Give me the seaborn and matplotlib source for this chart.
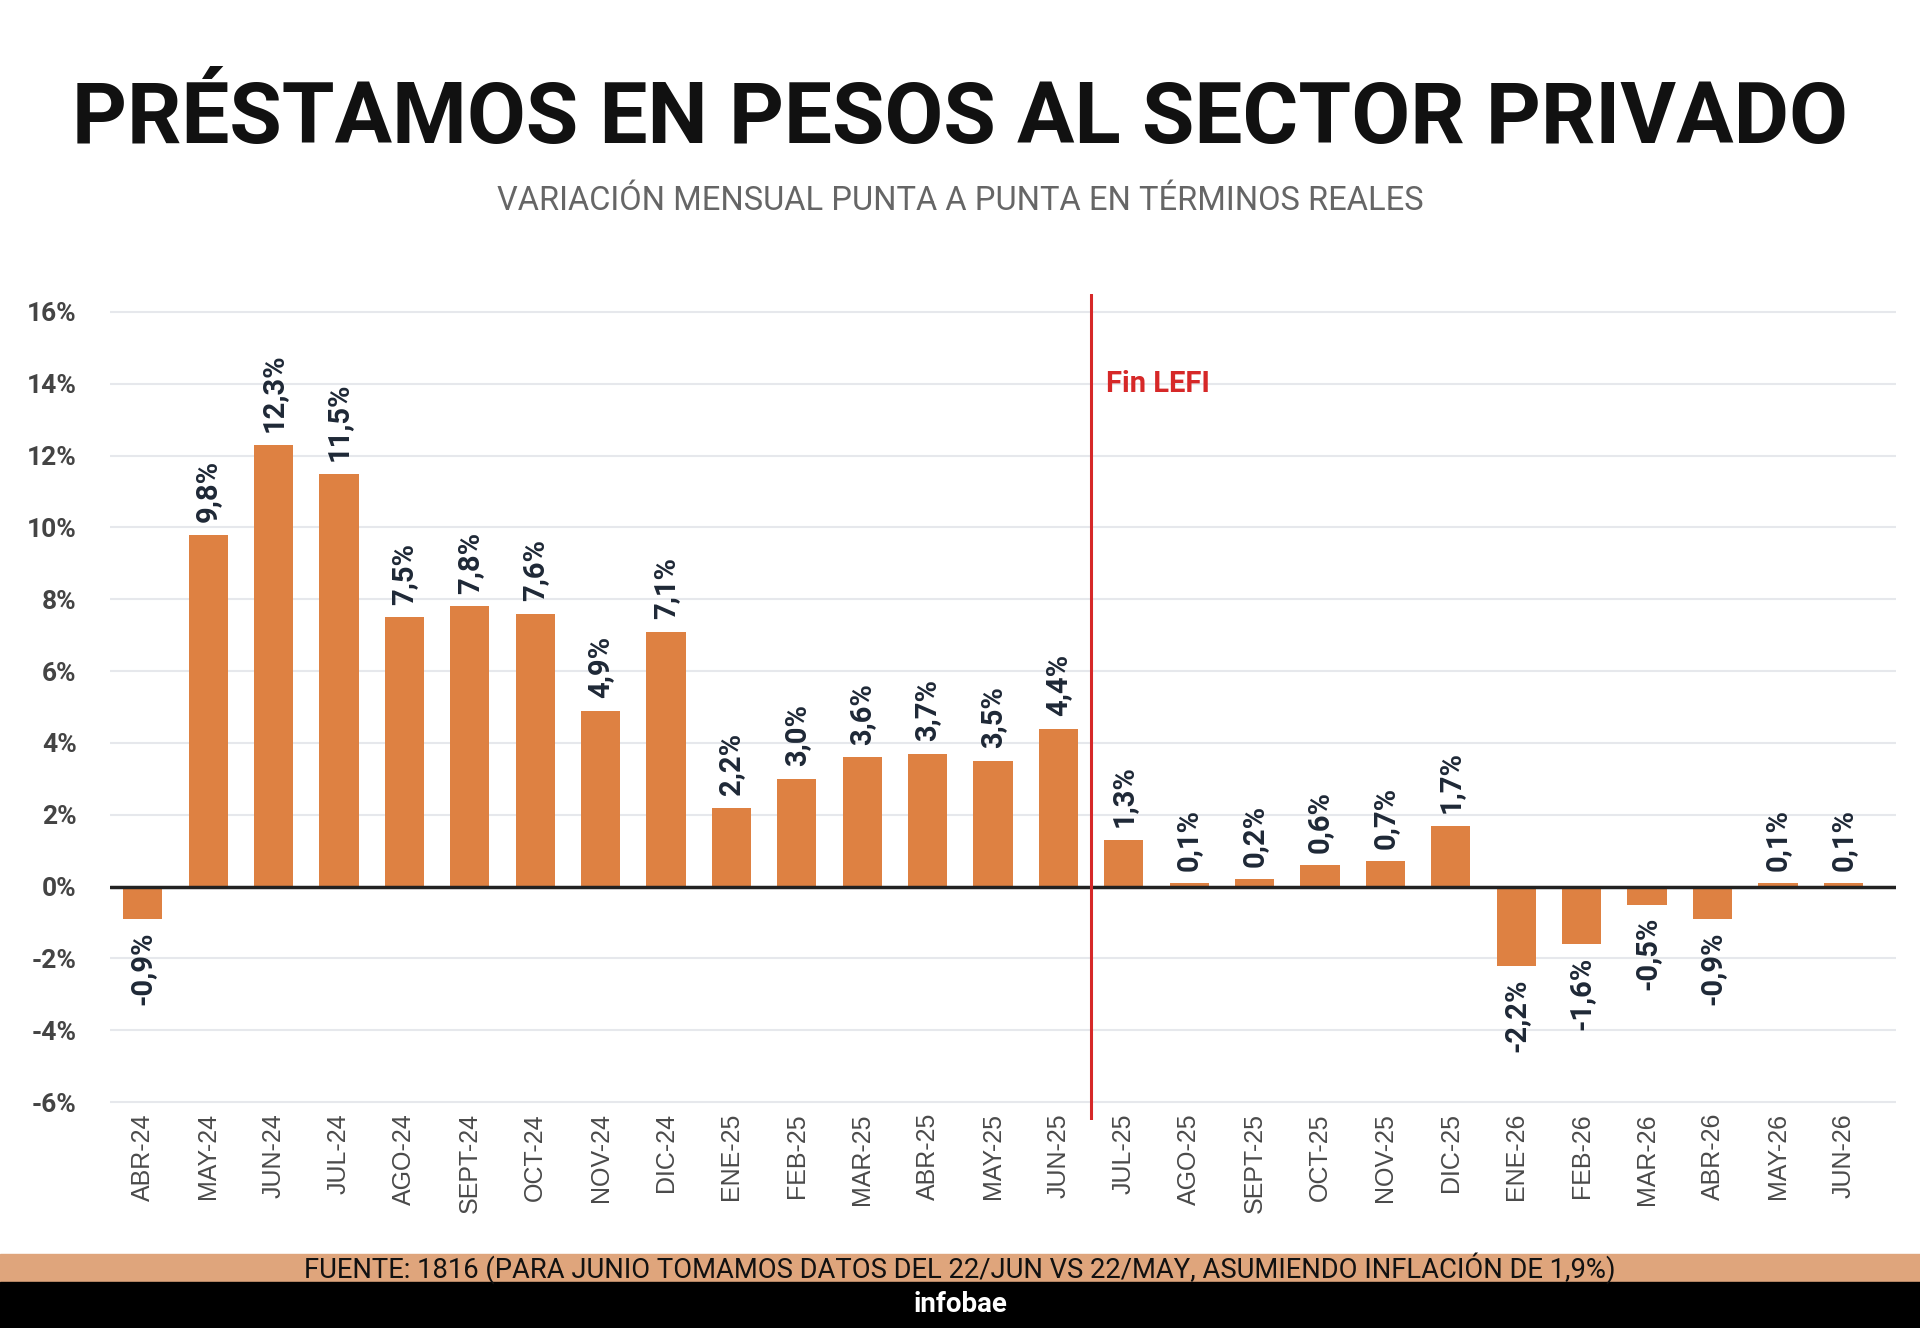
import matplotlib
matplotlib.use("Agg")
import matplotlib.pyplot as plt
import seaborn as sns
import pandas as pd

months = ["ABR-24", "MAY-24", "JUN-24", "JUL-24", "AGO-24", "SEPT-24", "OCT-24", "NOV-24", "DIC-24",
          "ENE-25", "FEB-25", "MAR-25", "ABR-25", "MAY-25", "JUN-25", "JUL-25", "AGO-25", "SEPT-25",
          "OCT-25", "NOV-25", "DIC-25", "ENE-26", "FEB-26", "MAR-26", "ABR-26", "MAY-26", "JUN-26"]
values = [-0.9, 9.8, 12.3, 11.5, 7.5, 7.8, 7.6, 4.9, 7.1,
          2.2, 3.0, 3.6, 3.7, 3.5, 4.4, 1.3, 0.1, 0.2,
          0.6, 0.7, 1.7, -2.2, -1.6, -0.5, -0.9, 0.1, 0.1]
y_ticks = [-6, -4, -2, 0, 2, 4, 6, 8, 10, 12, 14, 16]

title = "PRÉSTAMOS EN PESOS AL SECTOR PRIVADO"
subtitle = "VARIACIÓN MENSUAL PUNTA A PUNTA EN TÉRMINOS REALES"
source = "FUENTE: 1816 (PARA JUNIO TOMAMOS DATOS DEL 22/JUN VS 22/MAY, ASUMIENDO INFLACIÓN DE 1,9%)"
brand = "infobae"
marker_label = "Fin LEFI"

sns.set_theme(style="white")
plt.rcParams["font.family"] = ["Roboto", "DejaVu Sans"]

BAR = "#DE8142"
LABEL = "#1e2836"

fig = plt.figure(figsize=(19.2, 13.28), dpi=100)
ax = fig.add_axes([0.0573, 0.1566, 0.930, 0.622])

df = pd.DataFrame({"mes": months, "valor": values})
sns.barplot(data=df, x="mes", y="valor", color=BAR, width=0.6, ax=ax,
            saturation=1, edgecolor="none", zorder=3)

ax.set_ylim(-6.5, 16.5)
ax.set_xlim(-0.5, len(months) - 0.2)
ax.set_yticks(y_ticks)
ax.set_yticklabels([f"{t}%" for t in y_ticks], fontsize=19, fontweight="bold", color="#444444")
ax.tick_params(axis="y", length=0, pad=24)
ax.set_xticks(range(len(months)))
ax.set_xticklabels(months, rotation=90, va="top")
ax.tick_params(axis="x", length=0, pad=-5, labelsize=18, labelcolor="#4a4a4a",
               labelfontfamily="Liberation Sans")
ax.set_xlabel("")
ax.set_ylabel("")
for t in y_ticks:
    if t != 0:
        ax.axhline(t, color="#e6e8ec", lw=1.5, zorder=1)
ax.axhline(0, color="#222222", lw=2.5, zorder=4)
for s in ax.spines.values():
    s.set_visible(False)

# value labels
for i, v in enumerate(values):
    txt = f"{v:.1f}%".replace(".", ",")
    if v >= 0:
        ax.annotate(txt, (i, v), xytext=(0, 9), textcoords="offset points",
                    rotation=90, ha="center", va="bottom", fontsize=21,
                    fontweight="bold", color=LABEL, zorder=5)
    else:
        ax.annotate(txt, (i, v), xytext=(0, -9), textcoords="offset points",
                    rotation=90, ha="center", va="top", fontsize=21,
                    fontweight="bold", color=LABEL, zorder=5)

# vertical marker
ax.axvline(14.5, color="#d62828", lw=2.2, zorder=6)
ax.text(14.72, 14.0, marker_label, color="#d62828", fontsize=21, fontweight="bold",
        ha="left", va="center")

# titles
fig.text(0.5, 1 - 120 / 1328, title, ha="center", va="center", fontsize=61.5,
         fontweight="bold", color="#111111")
fig.text(0.5, 1 - 201 / 1328, subtitle, ha="center", va="center", fontsize=23.5,
         color="#666666")

# footer bands
fig.patches.append(plt.Rectangle((0, 1 - 1282 / 1328), 1, 28 / 1328, transform=fig.transFigure,
                                 color="#DFA57C", zorder=0))
fig.patches.append(plt.Rectangle((0, 0), 1, 46 / 1328, transform=fig.transFigure,
                                 color="#000000", zorder=0))
fig.text(0.5, 1 - 1268 / 1328, source, ha="center", va="center", fontsize=19.7, color="#111111")
fig.text(0.5, 1 - 1304 / 1328, brand, ha="center", va="center", fontsize=20,
         fontweight="bold", color="white")

fig.savefig("out.png", dpi=100, facecolor="white")
